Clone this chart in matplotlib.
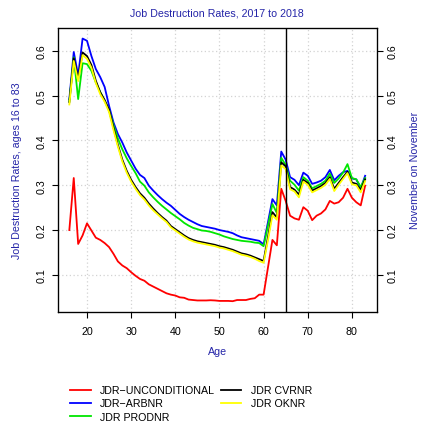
import numpy as np
import matplotlib
matplotlib.use("Agg")
import matplotlib.pyplot as plt

plt.rcParams['font.family'] = ['Liberation Sans', 'DejaVu Sans']

ages = list(range(16, 84))

jdr_unconditional = [
    0.200, 0.316, 0.169, 0.188, 0.215, 0.199, 0.183, 0.178, 0.171, 0.162,
    0.147, 0.130, 0.121, 0.115, 0.106, 0.098, 0.091, 0.087, 0.079, 0.074,
    0.069, 0.064, 0.059, 0.056, 0.054, 0.050, 0.049, 0.045, 0.044, 0.043,
    0.043, 0.043, 0.0435, 0.043, 0.042, 0.042, 0.042, 0.0414, 0.044, 0.044,
    0.044, 0.0465, 0.048, 0.056, 0.056, 0.117, 0.178, 0.166, 0.292, 0.265,
    0.232, 0.226, 0.223, 0.251, 0.243, 0.222, 0.232, 0.237, 0.246, 0.265,
    0.259, 0.262, 0.272, 0.292, 0.272, 0.262, 0.255, 0.299]

jdr_arbnr = [
    0.492, 0.597, 0.545, 0.627, 0.622, 0.588, 0.559, 0.541, 0.519, 0.477,
    0.440, 0.414, 0.395, 0.373, 0.355, 0.337, 0.323, 0.316, 0.299, 0.288,
    0.278, 0.269, 0.261, 0.254, 0.245, 0.236, 0.229, 0.223, 0.218, 0.213,
    0.209, 0.207, 0.205, 0.203, 0.200, 0.198, 0.196, 0.193, 0.188, 0.184,
    0.182, 0.180, 0.178, 0.176, 0.168, 0.218, 0.269, 0.255, 0.375, 0.357,
    0.318, 0.312, 0.300, 0.328, 0.321, 0.303, 0.306, 0.310, 0.318, 0.334,
    0.311, 0.321, 0.329, 0.332, 0.315, 0.313, 0.293, 0.321]

jdr_prodnr = [
    0.487, 0.585, 0.492, 0.572, 0.570, 0.555, 0.529, 0.508, 0.488, 0.467,
    0.434, 0.404, 0.380, 0.360, 0.343, 0.327, 0.308, 0.299, 0.284, 0.273,
    0.263, 0.254, 0.246, 0.238, 0.231, 0.224, 0.216, 0.210, 0.205, 0.202,
    0.199, 0.198, 0.196, 0.193, 0.190, 0.186, 0.183, 0.180, 0.178, 0.176,
    0.175, 0.174, 0.172, 0.171, 0.164, 0.210, 0.258, 0.238, 0.361, 0.345,
    0.310, 0.301, 0.288, 0.318, 0.310, 0.293, 0.298, 0.303, 0.310, 0.326,
    0.305, 0.315, 0.328, 0.347, 0.316, 0.313, 0.296, 0.316]

jdr_cvrnr = [
    0.485, 0.583, 0.537, 0.596, 0.588, 0.568, 0.533, 0.507, 0.490, 0.468,
    0.428, 0.390, 0.357, 0.332, 0.312, 0.296, 0.282, 0.272, 0.259, 0.248,
    0.238, 0.229, 0.221, 0.209, 0.202, 0.195, 0.188, 0.182, 0.178, 0.175,
    0.173, 0.171, 0.169, 0.167, 0.164, 0.162, 0.159, 0.156, 0.152, 0.148,
    0.146, 0.143, 0.139, 0.135, 0.131, 0.185, 0.240, 0.228, 0.351, 0.342,
    0.296, 0.290, 0.279, 0.312, 0.305, 0.288, 0.293, 0.298, 0.305, 0.318,
    0.292, 0.305, 0.318, 0.330, 0.306, 0.303, 0.289, 0.313]

jdr_oknr = [
    0.480, 0.577, 0.532, 0.590, 0.582, 0.562, 0.528, 0.503, 0.486, 0.463,
    0.423, 0.386, 0.353, 0.328, 0.308, 0.292, 0.278, 0.268, 0.255, 0.244,
    0.235, 0.226, 0.218, 0.206, 0.199, 0.192, 0.185, 0.179, 0.175, 0.172,
    0.170, 0.168, 0.166, 0.164, 0.161, 0.159, 0.156, 0.153, 0.149, 0.145,
    0.143, 0.140, 0.136, 0.131, 0.127, 0.178, 0.233, 0.223, 0.344, 0.336,
    0.291, 0.286, 0.273, 0.308, 0.301, 0.284, 0.289, 0.294, 0.301, 0.314,
    0.287, 0.301, 0.314, 0.327, 0.302, 0.300, 0.284, 0.309]

series = [
    ("JDR\u2212UNCONDITIONAL", jdr_unconditional, "#FF0000"),
    ("JDR\u2212ARBNR", jdr_arbnr, "#0000FF"),
    ("JDR PRODNR", jdr_prodnr, "#00E600"),
    ("JDR CVRNR", jdr_cvrnr, "#000000"),
    ("JDR OKNR", jdr_oknr, "#FFFF00"),
]

x_ticks = [20, 30, 40, 50, 60, 70, 80]
y_ticks = [0.1, 0.2, 0.3, 0.4, 0.5, 0.6]
retire_age = 65

label_color = "#2424A8"
fs = 7.7

fig = plt.figure(figsize=(4.25, 4.27), dpi=100)
ax = fig.add_axes([0.1353, 0.2677, 0.887 - 0.1353, 0.932 - 0.2677])

handles = []
for name, vals, col in series:
    h, = ax.plot(ages, vals, color=col, lw=1.3, label=name, zorder=3)
    handles.append(h)

ax.axvline(retire_age, color="black", lw=1.0, zorder=4)

# R-style 4% padding around the data range
xmin, xmax = min(ages), max(ages)
allv = np.concatenate([np.asarray(s[1]) for s in series])
ymin, ymax = allv.min(), allv.max()
px = 0.04 * (xmax - xmin)
py = 0.04 * (ymax - ymin)
ax.set_xlim(xmin - px, xmax + px)
ax.set_ylim(ymin - py, ymax + py)

ax.set_xticks(x_ticks)
ax.set_yticks(y_ticks)
ax.grid(True, color="#D3D3D3", linestyle=(0, (1, 2)), lw=0.9, zorder=0)
ax.tick_params(direction="out", length=4.5, width=0.8, labelsize=fs, pad=3)
ax.tick_params(axis="x", pad=6)
for lbl in ax.get_yticklabels():
    lbl.set_rotation(90)
    lbl.set_va("center")
    lbl.set_ha("right")
for sp in ax.spines.values():
    sp.set_linewidth(0.9)

ax2 = ax.twinx()
ax2.set_ylim(ax.get_ylim())
ax2.set_yticks(y_ticks)
ax2.tick_params(direction="out", length=4.5, width=0.8, labelsize=fs, pad=3)
for lbl in ax2.get_yticklabels():
    lbl.set_rotation(90)
    lbl.set_va("center")
    lbl.set_ha("left")

fig.text(0.5 * (0.1353 + 0.887), 1 - 14 / 427, "Job Destruction Rates, 2017 to 2018",
         ha="center", va="center", color=label_color, fontsize=fs)
fig.text(0.5 * (0.1353 + 0.887), 1 - 352 / 427, "Age",
         ha="center", va="center", color=label_color, fontsize=fs)
fig.text(17.5 / 425, 0.5 * (0.2677 + 0.932), "Job Destruction Rates, ages 16 to 83",
         ha="center", va="center", rotation=90, color=label_color, fontsize=fs)
fig.text(414.5 / 425, 0.5 * (0.2677 + 0.932), "November on November",
         ha="center", va="center", rotation=90, color=label_color, fontsize=fs)

fig.legend(handles=handles, ncol=2, frameon=False,
           loc="upper left", bbox_to_anchor=(66 / 425, 1 - 382 / 427),
           fontsize=fs, handlelength=1.9, handletextpad=0.85,
           columnspacing=0.6, labelspacing=0.3, borderaxespad=0)

fig.savefig("out.png", dpi=100)
